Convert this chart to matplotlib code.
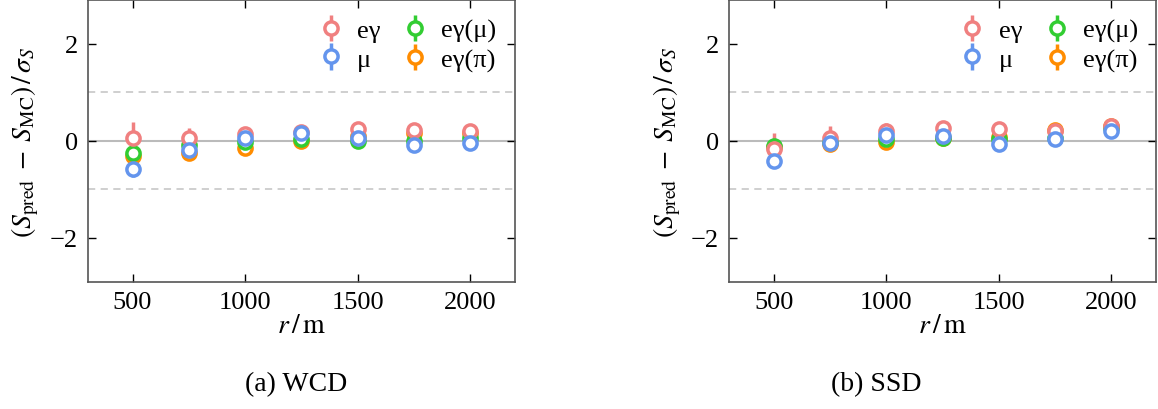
import matplotlib
matplotlib.use("Agg")
import matplotlib.pyplot as plt

## Style
plt.rcParams['font.family'] = ['Liberation Serif', 'DejaVu Serif']
plt.rcParams['mathtext.fontset'] = 'stix'
plt.rcParams['font.size'] = 19

## Data
r = [500, 750, 1000, 1250, 1500, 1750, 2000]
labels = ['eγ', 'μ', 'eγ(μ)', 'eγ(π)']
colors = ['#f08080', '#6495ed', '#32cd32', '#ff8c00']

wcd_eg = [0.05, 0.05, 0.14, 0.18, 0.24, 0.23, 0.20]
wcd_mu = [-0.57, -0.18, 0.05, 0.17, 0.06, -0.09, -0.05]
wcd_egmu = [-0.24, -0.09, -0.03, 0.03, 0.00, 0.00, 0.06]
wcd_egpi = [-0.31, -0.24, -0.14, 0.00, 0.10, 0.17, 0.17]
wcd_err_eg = [0.33, 0.22, 0.10, 0.06, 0.06, 0.06, 0.06]
wcd_err_mu = [0.18, 0.10, 0.06, 0.05, 0.05, 0.05, 0.05]
wcd_err_egmu = [0.15, 0.10, 0.06, 0.05, 0.05, 0.05, 0.05]
wcd_err_egpi = [0.15, 0.10, 0.06, 0.05, 0.05, 0.05, 0.05]

ssd_eg = [-0.16, 0.05, 0.20, 0.26, 0.24, 0.20, 0.30]
ssd_mu = [-0.42, -0.05, 0.13, 0.10, -0.07, 0.03, 0.20]
ssd_egmu = [-0.10, -0.03, 0.03, 0.05, 0.03, 0.05, 0.27]
ssd_egpi = [-0.12, -0.07, -0.03, 0.05, 0.07, 0.22, 0.30]
ssd_err_eg = [0.33, 0.26, 0.17, 0.08, 0.06, 0.06, 0.06]
ssd_err_mu = [0.10, 0.08, 0.06, 0.05, 0.05, 0.05, 0.05]
ssd_err_egmu = [0.10, 0.08, 0.06, 0.05, 0.05, 0.05, 0.05]
ssd_err_egpi = [0.10, 0.08, 0.06, 0.05, 0.05, 0.05, 0.05]

panels = [
	('(a) WCD', [wcd_eg, wcd_mu, wcd_egmu, wcd_egpi],
	 [wcd_err_eg, wcd_err_mu, wcd_err_egmu, wcd_err_egpi]),
	('(b) SSD', [ssd_eg, ssd_mu, ssd_egmu, ssd_egpi],
	 [ssd_err_eg, ssd_err_mu, ssd_err_egmu, ssd_err_egpi]),
]

fig = plt.figure(figsize=(11.58, 4.10), dpi=100)
axes_pos = [[0.0756, 0.3105, 0.3692, 0.687], [0.6295, 0.3105, 0.3692, 0.687]]
caption_x = [0.256, 0.757]

# drawing order: orange, green, red, blue on top
draw_order = [3, 2, 0, 1]

for (caption, values, errors), pos, cx in zip(panels, axes_pos, caption_x):
	ax = fig.add_axes(pos)
	ax.axhline(0, color='#bbbbbb', lw=1.5, zorder=0)
	ax.axhline(1, color='#cccccc', lw=1.3, ls=(0, (4, 3)), zorder=0)
	ax.axhline(-1, color='#cccccc', lw=1.3, ls=(0, (4, 3)), zorder=0)
	handles = {}
	for i in draw_order:
		h = ax.errorbar(r, values[i], yerr=errors[i], fmt='o', color=colors[i],
			mfc='white', mec=colors[i], ms=9.5, mew=2.5, elinewidth=2.5,
			capsize=0, label=labels[i])
		handles[i] = h
	ax.set_xlim(300, 2200)
	ax.set_ylim(-2.9, 2.9)
	ax.set_xticks([500, 1000, 1500, 2000])
	ax.set_yticks([-2, 0, 2])
	ax.tick_params(direction='in', top=True, right=True, length=6, width=1,
		labelsize=19, pad=7)
	for s in ax.spines.values():
		s.set_color('#555555')
		s.set_linewidth(1.2)
	ax.set_xlabel(r'$r\,/\,\mathrm{m}$', fontsize=20, labelpad=0)
	ax.set_ylabel(r'$(S_\mathrm{pred}\;-\;S_\mathrm{MC})\,/\,\sigma_S$', fontsize=20, labelpad=6)
	ax.legend([handles[i] for i in range(4)], labels, ncol=2, frameon=False,
		loc='upper right', fontsize=19, handlelength=0.8, handletextpad=0.6,
		columnspacing=0.9, labelspacing=0.2, borderaxespad=0.3)
	fig.text(cx, 1 - 385 / 410, caption, ha='center', va='center', fontsize=20)

fig.savefig('out.png', dpi=100)
